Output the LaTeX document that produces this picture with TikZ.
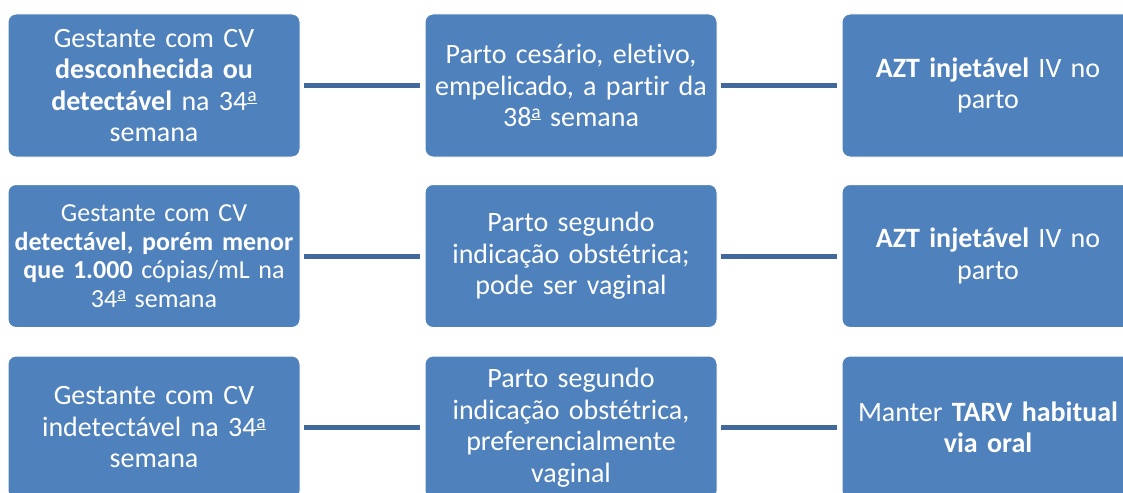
\documentclass[tikz,border=0pt]{standalone}
\usepackage{fontspec}
\setmainfont[Ligatures=NoCommon,WordSpace=0.8]{Carlito}
\frenchspacing
\definecolor{boxblue}{HTML}{4F81BD}
\definecolor{connblue}{HTML}{41699C}
\newcommand{\ordfem}{\raisebox{0.3em}{\scalebox{0.7}{\underline{a}}}}
\begin{document}
\begin{tikzpicture}[x=1pt,y=-1pt,
  stepbox/.style={rectangle, rounded corners=8pt, fill=boxblue, draw=white, line width=1pt,
    minimum width=292pt, minimum height=143pt, inner sep=0pt, text width=286pt, align=center,
    text=white, font=\fontsize{28}{31.5}\selectfont},
  smalltext/.style={font=\fontsize{26}{28.5}\selectfont},
  conn/.style={draw=connblue, line width=5pt, shorten <=3pt, shorten >=5pt}]
\useasboundingbox (0,0) rectangle (1123,492);
\node[stepbox] (a1) at (154,85.5) {Gestante com CV\\\textbf{desconhecida ou}\\\textbf{detectável} na 34\ordfem\\semana};
\node[stepbox] (a2) at (571,85.5) {Parto cesário, eletivo,\\empelicado, a partir da\\38\ordfem{} semana};
\node[stepbox] (a3) at (988,85.5) {\textbf{AZT injetável} IV no\\parto};
\node[stepbox,smalltext] (b1) at (154,256) {Gestante com CV\\\textbf{detectável, porém menor}\\\textbf{que 1.000} cópias/mL na\\34\ordfem{} semana};
\node[stepbox] (b2) at (571,256) {Parto segundo\\indicação obstétrica;\\pode ser vaginal};
\node[stepbox] (b3) at (988,256) {\textbf{AZT injetável} IV no\\parto};
\node[stepbox] (c1) at (154,427.5) {Gestante com CV\\indetectável na 34\ordfem\\semana};
\node[stepbox] (c2) at (571,427.5) {Parto segundo\\indicação obstétrica,\\preferencialmente\\vaginal};
\node[stepbox] (c3) at (988,427.5) {Manter \textbf{TARV habitual}\\\textbf{via oral}};
\draw[conn] (a1) -- (a2);
\draw[conn] (a2) -- (a3);
\draw[conn] (b1) -- (b2);
\draw[conn] (b2) -- (b3);
\draw[conn] (c1) -- (c2);
\draw[conn] (c2) -- (c3);
\end{tikzpicture}
\end{document}
